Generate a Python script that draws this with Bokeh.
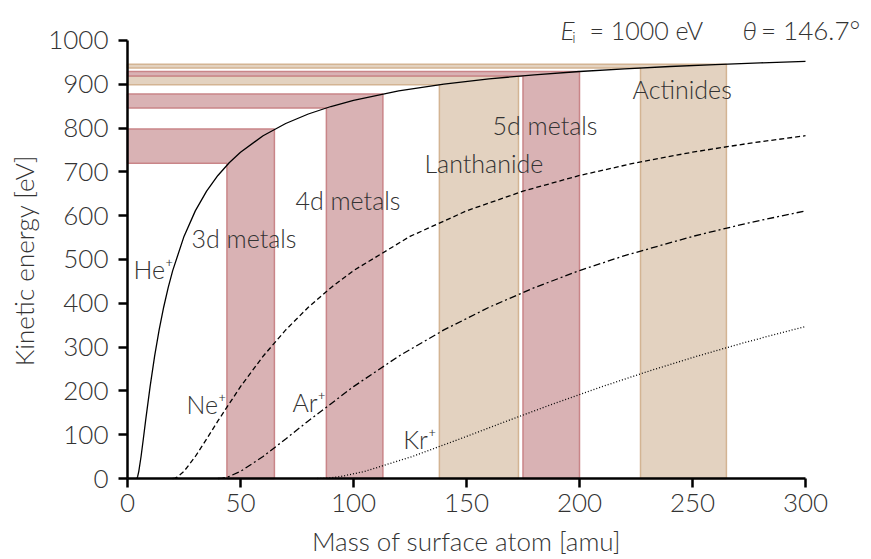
import math
from bokeh.plotting import figure
from bokeh.models import Label, Range1d, FixedTicker, LinearAxis
from bokeh.embed import file_html
from bokeh.resources import INLINE

# ---- data ----
he_x = [4, 4.2, 4.5, 5, 6, 7, 8, 10, 12, 14, 16, 18, 20, 25, 30, 35, 40, 45, 50, 60, 70, 80, 90, 100, 120, 140, 160, 180, 200, 220, 240, 260, 280, 300]
he_y = [0, 0.8, 4.7, 16.3, 50.2, 90.2, 131.4, 209.8, 279.2, 339.2, 391.0, 435.7, 474.7, 552.7, 611.0, 656.0, 691.8, 720.9, 745.0, 782.6, 810.5, 832.2, 849.3, 863.3, 884.8, 900.4, 912.3, 921.6, 929.2, 935.4, 940.6, 945.1, 948.9, 952.2]
ne_x = [20, 21, 22, 25, 30, 35, 40, 50, 60, 70, 80, 90, 100, 125, 150, 175, 200, 225, 250, 275, 300]
ne_y = [0, 0.8, 3.1, 16.3, 50.2, 90.2, 131.4, 209.8, 279.2, 339.2, 391.0, 435.7, 474.7, 552.7, 611.0, 656.0, 691.8, 720.9, 745.0, 765.3, 782.6]
ar_x = [40, 42, 44, 45, 50, 60, 70, 80, 100, 120, 140, 160, 180, 200, 220, 250, 275, 300]
ar_y = [0, 0.8, 3.1, 4.7, 16.3, 50.2, 90.2, 131.4, 209.8, 279.2, 339.2, 391.0, 435.7, 474.7, 508.9, 552.7, 583.8, 611.0]
kr_x = [84, 88.2, 92.4, 94.5, 105, 126, 147, 168, 189, 210, 231, 252, 273, 294, 300]
kr_y = [0, 0.8, 3.1, 4.7, 16.3, 50.2, 90.2, 131.4, 171.6, 209.8, 245.7, 279.2, 310.3, 339.2, 347.1]

band_names = ["3d metals", "4d metals", "Lanthanide", "5d metals", "Actinides"]
band_m_lo = [44, 88, 138, 175, 227]
band_m_hi = [65, 113, 173, 200, 265]
band_e_lo = [720.0, 846.0, 899.0, 919.0, 937.0]
band_e_hi = [798.0, 878.0, 919.0, 929.0, 946.0]
band_kind = ["d", "d", "f", "d", "f"]

x_ticks = [0, 50, 100, 150, 200, 250, 300]
y_ticks = [0, 100, 200, 300, 400, 500, 600, 700, 800, 900, 1000]
x_title = "Mass of surface atom [amu]"
y_title = "Kinetic energy [eV]"

FONT = "Lato Light"
TXT = "#333333"
fill_c = {"d": "#d9b2b4", "f": "#e3d2c0"}
edge_c = {"d": "#c98588", "f": "#d3b493"}

# frame covers the whole canvas; the axes sit at x=0 / y=0 inside it
p = figure(width=871, height=559, output_backend="svg", toolbar_location=None,
           x_range=Range1d(-56.195, 329.204), y_range=Range1d(-184.93, 1091.32),
           x_axis_location=None, y_axis_location=None, min_border=0)
p.outline_line_color = None
p.grid.visible = False
p.background_fill_color = "white"
p.border_fill_color = "white"

# bands (L-shaped)
for lo, hi, elo, ehi, k in zip(band_m_lo, band_m_hi, band_e_lo, band_e_hi, band_kind):
    xs = [0, lo, lo, hi, hi, 0]
    ys = [elo, elo, 0, 0, ehi, ehi]
    p.patch(xs, ys, fill_color=fill_c[k], line_color=edge_c[k], line_width=1.5)

p.line(he_x, he_y, line_color="black", line_width=1.3)
p.line(ne_x, ne_y, line_color="black", line_width=1.3, line_dash="5 3")
p.line(ar_x, ar_y, line_color="black", line_width=1.3, line_dash="7 3 2 3")
p.line(kr_x, kr_y, line_color="black", line_width=1.3, line_dash="1 2")

xa = LinearAxis(fixed_location=0, bounds=(0, 300), ticker=FixedTicker(ticks=x_ticks))
ya = LinearAxis(fixed_location=0, bounds=(0, 1000), ticker=FixedTicker(ticks=y_ticks))
for ax in (xa, ya):
    ax.axis_line_width = 2.5
    ax.major_tick_line_width = 2.5
    ax.major_tick_out = 9
    ax.major_tick_in = 0
    ax.minor_tick_line_color = None
    ax.major_label_text_font = FONT
    ax.major_label_text_font_size = "26px"
    ax.major_label_text_color = TXT
ya.major_label_standoff = 10
xa.major_label_standoff = 6
p.add_layout(xa, "below")
p.add_layout(ya, "left")

def lab(x, y, t, size="25px", style="normal", align="left", angle=0.0):
    p.add_layout(Label(x=x, y=y, text=t, text_font=FONT, text_font_size=size,
                       text_font_style=style, text_color=TXT, angle=angle,
                       text_baseline="middle", text_align=align))

# axis titles
lab(150.0, -143.8, x_title, size="26px", align="center")
lab(-45.6, 497.7, y_title, size="26px", align="center", angle=math.pi / 2)

label_x = [28.3, 74.3, 131.4, 161.5, 223.5]
label_y = [548, 635, 721, 806, 890]
for n, x, y in zip(band_names, label_x, label_y):
    lab(x, y, n)

lab(2.7, 479, "He\u207a")
lab(26.1, 169, "Ne\u207a")
lab(73, 174, "Ar\u207a")
lab(122, 91, "Kr\u207a")

# header
lab(191.6, 1025, "E", style="italic", size="26px")
lab(196.8, 1009, "i", size="15px")
lab(204.4, 1025, "= 1000 eV")
lab(272.1, 1025, "\u03b8", style="italic", size="26px")
lab(280.3, 1025, "= 146.7\u00b0", size="26px")

open("out.html", "w").write(file_html(p, INLINE))
